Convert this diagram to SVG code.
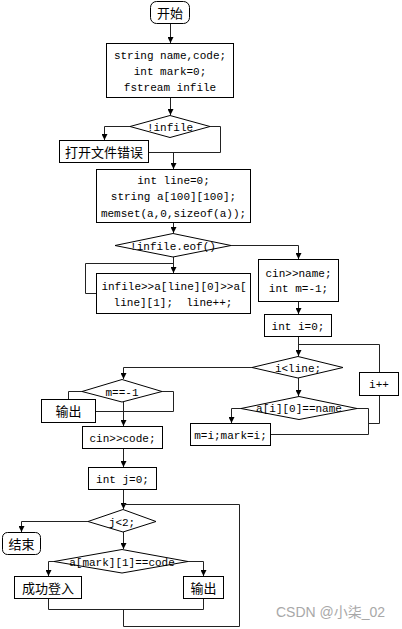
<svg xmlns="http://www.w3.org/2000/svg" width="402" height="629" viewBox="0 0 402 629">
<style>
rect,polygon{fill:#fff;stroke:#000;stroke-width:1}
.c path{fill:none;stroke:#222;stroke-width:1}
.c path.a{marker-end:url(#ah)}
text{font-family:"Liberation Mono","Noto Sans CJK SC",monospace;font-size:11px;fill:#000;text-anchor:middle}
text.zh{font-family:"Noto Sans CJK SC","Liberation Sans",sans-serif;font-size:13px}
text.wm{font-family:"Liberation Sans","Noto Sans CJK SC",sans-serif;font-size:14px;fill:#a8a8a8;text-anchor:start}
</style>
<defs>
<marker id="ah" viewBox="0 0 6 6" refX="6" refY="3" markerWidth="6" markerHeight="6" markerUnits="userSpaceOnUse" orient="auto"><path d="M0,0L6,3L0,6z" fill="#000"/></marker>
</defs>
<g class="c" id="connectors">
<path class="a" d="M170.5,24V43"/>
<path class="a" d="M170.5,98V115"/>
<path class="a" d="M130,126.5H104.5V140"/>
<path d="M210,126.5H220.5V152.5H149"/>
<path class="a" d="M173.5,152.5V169"/>
<path class="a" d="M173.5,223V233"/>
<path class="a" d="M173.5,257V273"/>
<path d="M96,293.5H85.5V263.5H173.5"/>
<path class="a" d="M231,245.5H298.5V259"/>
<path class="a" d="M298.5,302V314"/>
<path class="a" d="M298.5,337V356"/>
<path d="M298.5,344.5H379.5V372"/>
<path class="a" d="M298.5,378V396"/>
<path class="a" d="M241,408.5H231.5V423"/>
<path d="M357,408.5H368.5V434.5H271"/>
<path d="M379.5,396V423.5H368.5"/>
<path class="a" d="M252,367.5H123.5V379"/>
<path d="M82,391.5H68.5V399"/>
<path d="M162,391.5H173.5V411.5H96"/>
<path class="a" d="M123.5,402V426"/>
<path class="a" d="M123.5,449V467"/>
<path class="a" d="M123.5,490V509"/>
<path d="M123.5,504.5H239.5V626.5H123.5V609.5"/>
<path d="M48.5,609.5H203.5"/>
<path class="a" d="M88,521.5H21.5V532"/>
<path class="a" d="M123.5,532V549"/>
<path class="a" d="M54,561.5H48.5V576"/>
<path class="a" d="M188,561.5H203.5V576"/>
<path d="M48.5,599V609.5"/>
<path d="M203.5,599V609.5"/>
</g>
<g id="start"><rect x="150.5" y="1.5" width="39" height="22" rx="6"/><text class="zh" x="170" y="18">开始</text></g>
<g id="init"><rect x="106.5" y="43.5" width="127" height="54"/><text x="170" y="59">string name,code;</text><text x="170" y="75">int mark=0;</text><text x="170" y="91">fstream infile</text></g>
<g id="chk_infile"><polygon points="170,115.5 210,126.5 170,137.5 130,126.5"/><text x="170" y="131">!infile</text></g>
<g id="err"><rect x="59.5" y="140.5" width="89" height="22"/><text class="zh" x="104" y="156.5">打开文件错误</text></g>
<g id="decl"><rect x="96.5" y="169.5" width="154" height="53"/><text x="173.5" y="184">int line=0;</text><text x="173.5" y="200">string a[100][100];</text><text x="173.5" y="217">memset(a,0,sizeof(a));</text></g>
<g id="chk_eof"><polygon points="173,233.5 231,245.5 173,257 115,245.5"/><text x="173" y="249.5">!infile.eof()</text></g>
<g id="read"><rect x="96.5" y="273.5" width="154" height="40"/><text x="174" y="290">infile&gt;&gt;a[line][0]&gt;&gt;a[</text><text x="173" y="306" xml:space="preserve">line][1];  line++;</text></g>
<g id="cin_name"><rect x="258.5" y="259.5" width="80" height="42"/><text x="298.5" y="277">cin&gt;&gt;name;</text><text x="298.5" y="292">int m=-1;</text></g>
<g id="init_i"><rect x="264.5" y="314.5" width="67" height="22"/><text x="298" y="330">int i=0;</text></g>
<g id="chk_i"><polygon points="298,356.5 343,367.5 298,378 252,367.5"/><text x="298" y="371.5">i&lt;line;</text></g>
<g id="inc_i"><rect x="359.5" y="372.5" width="39" height="23"/><text x="379" y="388">i++</text></g>
<g id="chk_name"><polygon points="299,396.5 357,408.5 299,419.5 241,408.5"/><text x="299" y="412">a[i][0]==name</text></g>
<g id="set_m"><rect x="190.5" y="423.5" width="80" height="22"/><text x="230.5" y="439">m=i;mark=i;</text></g>
<g id="chk_m"><polygon points="122,379.5 162,391.5 122,402 82,391.5"/><text x="122" y="395.5">m==-1</text></g>
<g id="out1"><rect x="41.5" y="399.5" width="54" height="23"/><text class="zh" x="68.5" y="416">输出</text></g>
<g id="cin_code"><rect x="82.5" y="426.5" width="80" height="22"/><text x="122.5" y="442">cin&gt;&gt;code;</text></g>
<g id="init_j"><rect x="88.5" y="467.5" width="68" height="22"/><text x="122.5" y="483">int j=0;</text></g>
<g id="chk_j"><polygon points="123,509.5 156,521.5 123,532 88,521.5"/><text x="122" y="525.5">j&lt;2;</text></g>
<g id="end"><rect x="2.5" y="532.5" width="38" height="22" rx="5"/><text class="zh" x="21.5" y="548.5">结束</text></g>
<g id="chk_code"><polygon points="122,549.5 188,561.5 122,573 54,561.5"/><text x="122" y="565.5">a[mark][1]==code</text></g>
<g id="ok"><rect x="14.5" y="576.5" width="67" height="22"/><text class="zh" x="48" y="592.5">成功登入</text></g>
<g id="out2"><rect x="183.5" y="576.5" width="40" height="22"/><text class="zh" x="203.5" y="592.5">输出</text></g>
<text class="wm" x="276" y="617">CSDN @小柒_02</text>
</svg>
